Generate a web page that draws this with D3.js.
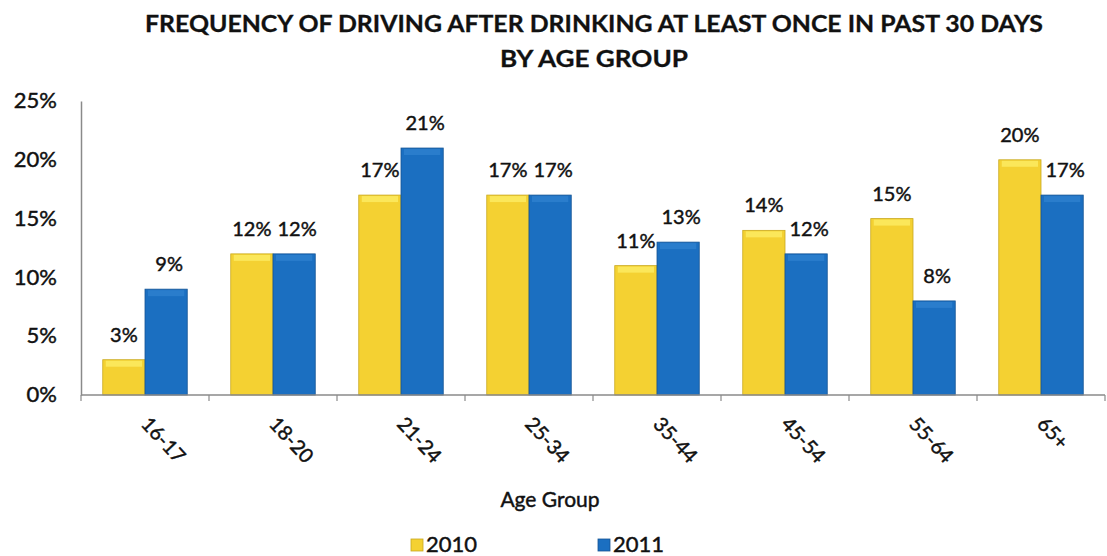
<!DOCTYPE html>
<html><head><meta charset="utf-8">
<script src="https://cdn.jsdelivr.net/npm/d3@7"></script>
<style>
html,body{margin:0;padding:0;background:#fff;}
svg{display:block;font-family:Lato,"Open Sans",sans-serif;}
.tx{stroke:#111;stroke-width:0.45px;fill:#111;}
</style></head>
<body>
<svg id="chart" width="1107" height="556"></svg>
<script>
const categories = ["16-17","18-20","21-24","25-34","35-44","45-54","55-64","65+"];
const seriesNames = ["2010","2011"];
const values2010 = [3,12,17,17,11,14,15,20];
const values2011 = [9,12,21,17,13,12,8,17];
const yTicks = [0,5,10,15,20,25];
const titleLines = ["FREQUENCY OF DRIVING AFTER DRINKING AT LEAST ONCE IN PAST 30 DAYS","BY AGE GROUP"];
const xTitle = "Age Group";

(function(){
const colors = {"2010":"#f4d132","2011":"#1b6fc1"};
const strokes = {"2010":"#c9a91e","2011":"#145494"};
const tops = {"2010":"#fbe75a","2011":"#2a7dcc"};

const svg = d3.select("#chart");
const pLeft = 81, pRight = 1105, pTop = 101, pBottom = 395;

const y = d3.scaleLinear().domain([0,25]).range([pBottom, pTop]);
const x0 = d3.scaleBand().domain(categories).range([pLeft,pRight]).paddingInner(0.34).paddingOuter(0.17);
const x1 = d3.scaleBand().domain(seriesNames).range([0,x0.bandwidth()]);

const data = categories.map((c,i)=>({cat:c, vals:[{s:"2010",v:values2010[i]},{s:"2011",v:values2011[i]}]}));

// title
const titleLen = [898, 188];
svg.selectAll("text.title").data(titleLines).enter().append("text")
  .attr("class","title")
  .attr("x",594).attr("y",(d,i)=>32+i*35)
  .attr("text-anchor","middle")
  .attr("font-size",23).attr("font-weight",700).attr("fill","#111")
  .attr("stroke","#111").attr("stroke-width",0.3)
  .attr("textLength",(d,i)=>titleLen[i]).attr("lengthAdjust","spacingAndGlyphs")
  .text(d=>d);

// y axis
const yAxis = svg.append("g").attr("transform",`translate(${pLeft},0)`)
  .call(d3.axisLeft(y).tickValues(yTicks).tickSize(0).tickPadding(24).tickFormat(d=>d+"%"));
yAxis.select(".domain").attr("stroke","#8a8a8a").attr("stroke-width",1.5);
yAxis.selectAll("text").attr("class","tx").attr("font-size",22).attr("font-family","Lato").attr("dy","0.3em");

// bars
const g = svg.append("g");
const grp = g.selectAll("g.grp").data(data).enter().append("g")
  .attr("transform",d=>`translate(${x0(d.cat)},0)`);
grp.selectAll("rect.bar").data(d=>d.vals).enter().append("rect")
  .attr("class","bar")
  .attr("x",d=>x1(d.s)).attr("width",x1.bandwidth())
  .attr("y",d=>y(d.v)).attr("height",d=>y(0)-y(d.v))
  .attr("fill",d=>colors[d.s]).attr("stroke",d=>strokes[d.s]).attr("stroke-width",0.8);
grp.selectAll("rect.cap").data(d=>d.vals).enter().append("rect")
  .attr("class","cap")
  .attr("x",d=>x1(d.s)+3).attr("width",x1.bandwidth()-6)
  .attr("y",d=>y(d.v)+1).attr("height",6)
  .attr("fill",d=>tops[d.s]);
grp.selectAll("text.lbl").data(d=>d.vals).enter().append("text")
  .attr("class","lbl tx")
  .attr("x",d=>x1(d.s)+x1.bandwidth()/2 + (d.s==="2011"?3:0))
  .attr("y",d=>y(d.v)-18)
  .attr("text-anchor","middle")
  .attr("font-size",20)
  .text(d=>d.v+"%");

// x axis line + boundary ticks
const step = x0.step();
svg.append("line").attr("x1",pLeft).attr("x2",pRight).attr("y1",y(0)).attr("y2",y(0))
  .attr("stroke","#8a8a8a").attr("stroke-width",1.5);
svg.selectAll("line.tk").data(d3.range(categories.length+1)).enter().append("line")
  .attr("class","tk")
  .attr("x1",i=>pLeft+i*step).attr("x2",i=>pLeft+i*step)
  .attr("y1",y(0)).attr("y2",y(0)+6)
  .attr("stroke","#8a8a8a").attr("stroke-width",1.2);

// category labels
svg.selectAll("text.cat").data(categories).enter().append("text")
  .attr("class","cat tx")
  .attr("transform",d=>`translate(${x0(d)+x0.bandwidth()/2-5},${pBottom+30}) rotate(47)`)
  .attr("text-anchor","start")
  .attr("font-size",20)
  .text(d=>d);

// x title
svg.append("text").attr("class","tx").attr("x",550).attr("y",507).attr("text-anchor","middle")
  .attr("font-size",21).text(xTitle);

// legend
const legX = [411, 598];
const leg = svg.selectAll("g.leg").data(seriesNames).enter().append("g")
  .attr("transform",(d,i)=>`translate(${legX[i]},0)`);
leg.append("rect").attr("x",0).attr("y",539).attr("width",12).attr("height",12)
  .attr("fill",d=>colors[d]).attr("stroke",d=>strokes[d]).attr("stroke-width",0.8);
leg.append("text").attr("class","tx").attr("x",15).attr("y",552).attr("font-size",22).text(d=>d);
})();
</script>
</body></html>
